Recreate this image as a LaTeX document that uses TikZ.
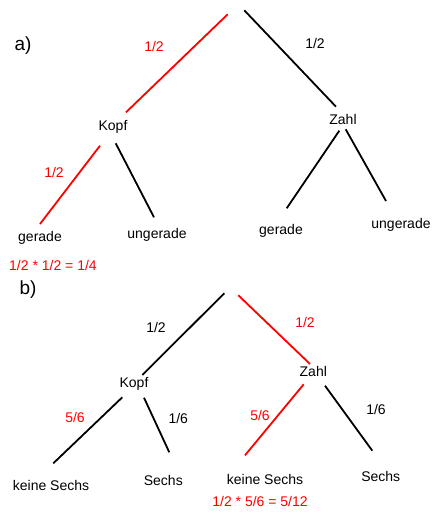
\documentclass[tikz,border=0pt]{standalone}
\usepackage{fontspec}
\setmainfont{Liberation Sans}
\begin{document}
\begin{tikzpicture}[x=1pt,y=-1pt,
  lbl/.style={font=\fontsize{14}{16}\selectfont, inner sep=0pt, text=black},
  rlbl/.style={lbl, text=red},
  big/.style={font=\fontsize{19}{22}\selectfont, inner sep=0pt},
  br/.style={line width=1.8pt, black},
  rd/.style={line width=1.8pt, red}]
\useasboundingbox (0,0) rectangle (441,518);
% ---- a) ----
\node[big] (la) at (23,46) {a)};
\coordinate (a0l) at (227.7,14.3);
\coordinate (a0r) at (244.3,10.3);
\coordinate (aK1) at (126,112.3);
\coordinate (aZ1) at (336,106.7);
\node[lbl] (aK) at (113,127) {Kopf};
\node[lbl] (aZ) at (343,119) {Zahl};
\node[rlbl] (ap1) at (154,47) {1/2};
\node[lbl] (ap2) at (315,44) {1/2};
\draw[rd] (a0l) -- (aK1);
\draw[br] (a0r) -- (aZ1);
\coordinate (aKl) at (100,145.7);
\coordinate (aKr) at (115.7,143.3);
\coordinate (aG1e) at (40,224);
\coordinate (aU1e) at (154,217.3);
\draw[rd] (aKl) -- (aG1e);
\draw[br] (aKr) -- (aU1e);
\node[rlbl] (ap3) at (54,172.7) {1/2};
\node[lbl] (aG1) at (40,238) {gerade};
\node[lbl] (aU1) at (157,235) {ungerade};
\coordinate (aZl) at (339.3,130.7);
\coordinate (aZr) at (345.7,129.3);
\coordinate (aG2e) at (286.7,208.3);
\coordinate (aU2e) at (386,201);
\draw[br] (aZl) -- (aG2e);
\draw[br] (aZr) -- (aU2e);
\node[lbl] (aG2) at (281,230.7) {gerade};
\node[lbl] (aU2) at (401,225.3) {ungerade};
\node[rlbl] (ares) at (53,265.3) {1/2 * 1/2 = 1/4};
% ---- b) ----
\node[big] (lb) at (28,290) {b)};
\coordinate (b0l) at (224.3,293.3);
\coordinate (b0r) at (238.3,295.3);
\coordinate (bK1) at (142.3,375);
\coordinate (bZ1) at (310,364);
\draw[br] (b0l) -- (bK1);
\draw[rd] (b0r) -- (bZ1);
\node[lbl] (bp1) at (156,327.7) {1/2};
\node[rlbl] (bp2) at (305,322.7) {1/2};
\node[lbl] (bK) at (134,384.3) {Kopf};
\node[lbl] (bZ) at (313.3,371) {Zahl};
\coordinate (bKl) at (122.3,397.3);
\coordinate (bKr) at (144,397.7);
\coordinate (bN1e) at (53.3,463.3);
\coordinate (bS1e) at (169.3,452.3);
\draw[br] (bKl) -- (bN1e);
\draw[br] (bKr) -- (bS1e);
\node[rlbl] (bp3) at (75,417.3) {5/6};
\node[lbl] (bp4) at (178.3,418.3) {1/6};
\coordinate (bZl) at (303.7,384.3);
\coordinate (bZr) at (325,385.7);
\coordinate (bN2e) at (245,455.3);
\coordinate (bS2e) at (372.3,450.7);
\draw[rd] (bZl) -- (bN2e);
\draw[br] (bZr) -- (bS2e);
\node[rlbl] (bp5) at (260,415) {5/6};
\node[lbl] (bp6) at (376,409.3) {1/6};
\node[lbl] (bN1) at (51,485) {keine Sechs};
\node[lbl] (bS1) at (163.3,480.7) {Sechs};
\node[lbl] (bN2) at (265,479) {keine Sechs};
\node[lbl] (bS2) at (380.7,476) {Sechs};
\node[rlbl] (bres) at (260,501.7) {1/2 * 5/6 = 5/12};
\end{tikzpicture}
\end{document}
